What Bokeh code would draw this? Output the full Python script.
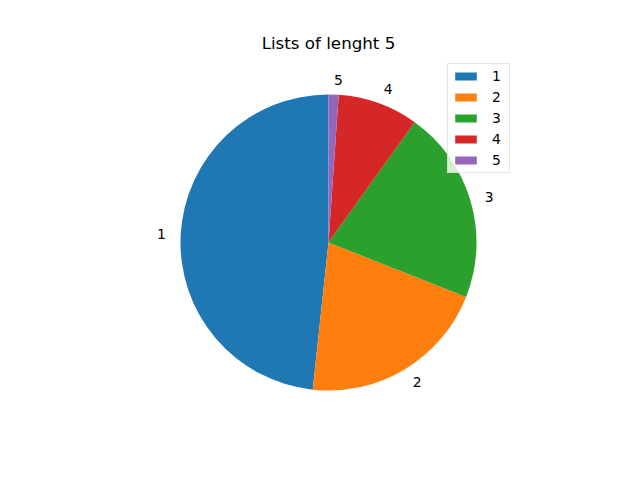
import numpy as np
from bokeh.plotting import figure
from bokeh.models import Range1d, Legend, LegendItem, ColumnDataSource
from bokeh.core.properties import value
from bokeh.embed import file_html
from bokeh.resources import INLINE

categories = ["1", "2", "3", "4", "5"]
shares = [48.3, 20.7, 21.1, 8.8, 1.1]
colors = ["#1f77b4", "#ff7f0e", "#2ca02c", "#d62728", "#9467bd"]
title_text = "Lists of lenght 5"

R = 148
FONT = "DejaVu Sans"

p = figure(width=624, height=464, output_backend="svg", toolbar_location=None,
           x_range=Range1d(-328, 296), y_range=Range1d(-222, 242),
           min_border=0, x_axis_location=None, y_axis_location=None)
p.grid.visible = False
p.outline_line_color = None

vals = np.array(shares, dtype=float)
frac = vals / vals.sum()
ends = np.pi / 2 + 2 * np.pi * np.cumsum(frac)
starts = ends - 2 * np.pi * frac

items = []
for i, cat in enumerate(categories):
    src = ColumnDataSource(dict(x=[0], y=[0], s=[starts[i]], e=[ends[i]]))
    r = p.wedge(x="x", y="y", radius=R, start_angle="s", end_angle="e",
                fill_color=colors[i], line_color=None, source=src)
    items.append(LegendItem(label=cat, renderers=[r]))

mids = (starts + ends) / 2
lx = 1.1 * R * np.cos(mids)
ly = 1.1 * R * np.sin(mids)
for i, cat in enumerate(categories):
    p.text(x=[lx[i]], y=[ly[i]], text=[cat],
           text_align="left" if lx[i] > 0 else "right",
           text_baseline="middle", text_font=value(FONT),
           text_font_size="13.9px", text_color="black")

p.text(x=[0], y=[200], text=[title_text], text_align="center",
       text_baseline="middle", text_font=value(FONT),
       text_font_size="16.7px", text_color="black")

legend = Legend(items=items, location=(447, 291), orientation="vertical")
legend.label_text_font = FONT
legend.label_text_font_size = "13.9px"
legend.label_text_color = "black"
legend.glyph_width = 27
legend.glyph_height = 10
legend.label_height = 14
legend.label_width = 13
legend.label_standoff = 13
legend.spacing = 5
legend.padding = 4
legend.margin = 0
legend.border_line_color = "#cccccc"
legend.background_fill_color = "white"
legend.background_fill_alpha = 0.8
p.add_layout(legend, "center")

open("out.html", "w").write(file_html(p, INLINE))
